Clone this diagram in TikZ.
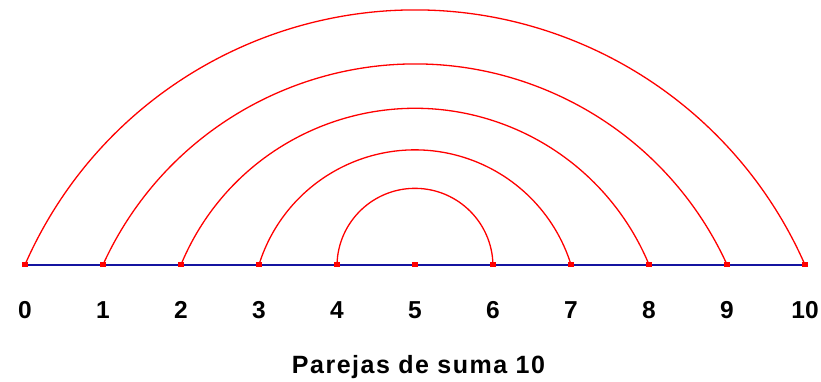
\documentclass[tikz,border=0pt]{standalone}
\usepackage{fontspec}
\setmainfont{Liberation Sans}
\newfontfamily\ttlfont[LetterSpace=6]{Liberation Sans}
\begin{document}
\begin{tikzpicture}[x=1pt,y=1pt,
  baseline/.style={draw={rgb,255:red,20;green,20;blue,160},line width=2pt},
  arcline/.style={draw={rgb,255:red,255;green,0;blue,0},line width=1.3pt},
  marker/.style={fill={rgb,255:red,255;green,0;blue,0},inner sep=0pt,minimum size=5.5pt,rectangle},
  numlbl/.style={anchor=base,inner sep=0pt,font=\fontsize{24.5}{24.5}\selectfont\bfseries},
  ttl/.style={anchor=base,inner sep=0pt,font=\fontsize{25}{25}\selectfont\ttlfont\bfseries}]
\useasboundingbox (0,0) rectangle (821,381);
\foreach \i in {0,...,10} {
  \coordinate (p\i) at ({25+78*\i},116.3);
}
\draw[baseline] (p0) -- (p10);
\foreach \i/\R/\t in {0/425.9/23.70, 1/342.9/24.50, 2/253.3/22.5, 3/163.4/17.3, 4/78.0/1.2} {
  \draw[arcline] (p\i) arc[start angle=180-\t, end angle=\t, radius=\R];
}
\foreach \i in {0,...,10} {
  \node[marker] (m\i) at (p\i) {};
  \node[numlbl] (l\i) at ({25+78*\i},62.5) {\i};
}
\node[ttl] (title) at (418.5,8) {Parejas de suma 10};
\end{tikzpicture}
\end{document}
